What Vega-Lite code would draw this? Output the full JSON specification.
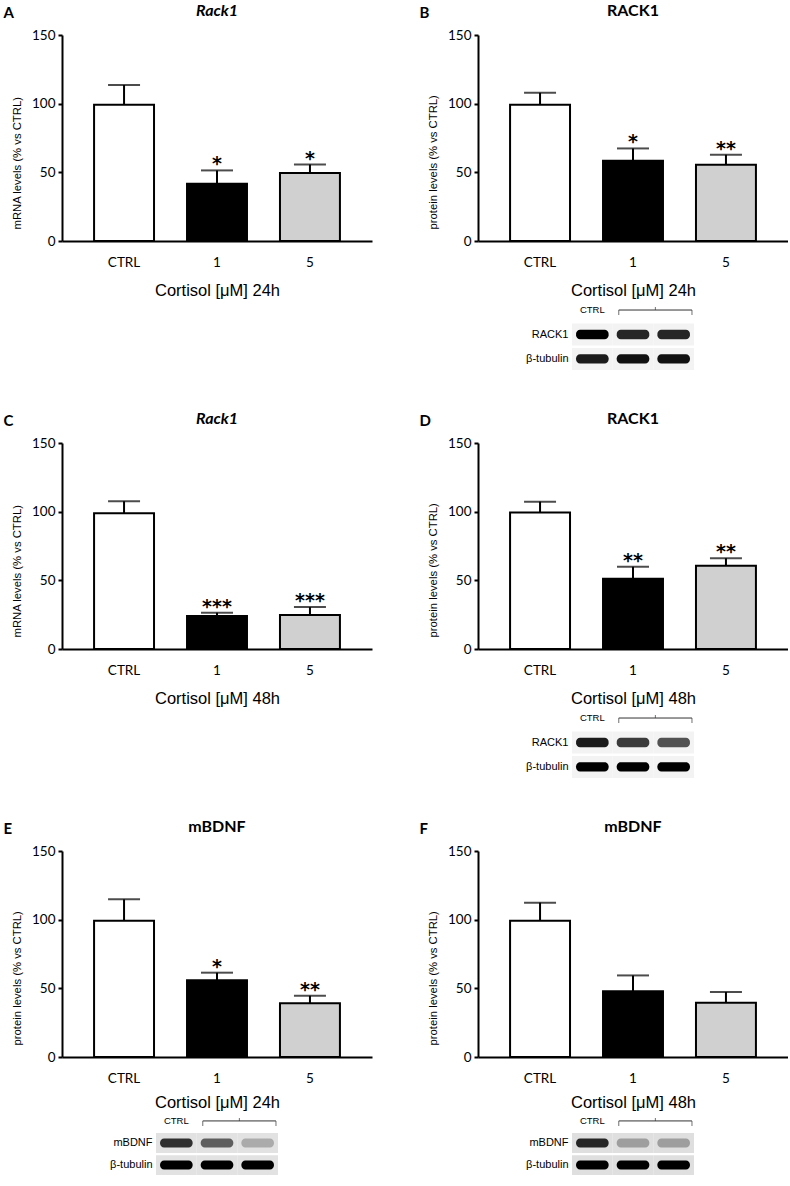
{
  "$schema": "https://vega.github.io/schema/vega-lite/v6.json",
  "padding": {"left": 3, "top": 3, "right": 0, "bottom": 0},
  "background": "white",
  "spacing": 41,
  "datasets": {
    "bars": [
      {"panel":"A","dose":"CTRL","mean":99.3,"upper":113.6,"star":""},
      {"panel":"A","dose":"1","mean":41.7,"upper":51.4,"star":"*"},
      {"panel":"A","dose":"5","mean":49.6,"upper":55.7,"star":"*"},
      {"panel":"B","dose":"CTRL","mean":99.3,"upper":107.9,"star":""},
      {"panel":"B","dose":"1","mean":58.5,"upper":67.4,"star":"*"},
      {"panel":"B","dose":"5","mean":55.6,"upper":62.8,"star":"**"},
      {"panel":"C","dose":"CTRL","mean":98.8,"upper":107.6,"star":""},
      {"panel":"C","dose":"1","mean":24.1,"upper":26.4,"star":"***"},
      {"panel":"C","dose":"5","mean":24.8,"upper":30.5,"star":"***"},
      {"panel":"D","dose":"CTRL","mean":99.4,"upper":107.3,"star":""},
      {"panel":"D","dose":"1","mean":51.2,"upper":59.9,"star":"**"},
      {"panel":"D","dose":"5","mean":60.6,"upper":66.1,"star":"**"},
      {"panel":"E","dose":"CTRL","mean":99.3,"upper":114.8,"star":""},
      {"panel":"E","dose":"1","mean":55.8,"upper":61.4,"star":"*"},
      {"panel":"E","dose":"5","mean":39.2,"upper":44.6,"star":"**"},
      {"panel":"F","dose":"CTRL","mean":99.3,"upper":112.4,"star":""},
      {"panel":"F","dose":"1","mean":47.8,"upper":59.4,"star":""},
      {"panel":"F","dose":"5","mean":39.5,"upper":47.3,"star":""}
    ],
    "blots": [
      {"panel":"B","kind":"label","row":"hdr","lane":"CTRL","text":"CTRL"},
      {"panel":"B","kind":"bracket","row":"hdr","lane":"1","lane_end":"5"},
      {"panel":"B","kind":"band","row":"RACK1","lane":"CTRL","intensity":1.0},
      {"panel":"B","kind":"band","row":"RACK1","lane":"1","intensity":0.85},
      {"panel":"B","kind":"band","row":"RACK1","lane":"5","intensity":0.85},
      {"panel":"B","kind":"band","row":"β-tubulin","lane":"CTRL","intensity":0.9},
      {"panel":"B","kind":"band","row":"β-tubulin","lane":"1","intensity":0.95},
      {"panel":"B","kind":"band","row":"β-tubulin","lane":"5","intensity":0.95},
      {"panel":"D","kind":"label","row":"hdr","lane":"CTRL","text":"CTRL"},
      {"panel":"D","kind":"bracket","row":"hdr","lane":"1","lane_end":"5"},
      {"panel":"D","kind":"band","row":"RACK1","lane":"CTRL","intensity":0.9},
      {"panel":"D","kind":"band","row":"RACK1","lane":"1","intensity":0.75},
      {"panel":"D","kind":"band","row":"RACK1","lane":"5","intensity":0.65},
      {"panel":"D","kind":"band","row":"β-tubulin","lane":"CTRL","intensity":1.0},
      {"panel":"D","kind":"band","row":"β-tubulin","lane":"1","intensity":1.0},
      {"panel":"D","kind":"band","row":"β-tubulin","lane":"5","intensity":1.0},
      {"panel":"E","kind":"label","row":"hdr","lane":"CTRL","text":"CTRL"},
      {"panel":"E","kind":"bracket","row":"hdr","lane":"1","lane_end":"5"},
      {"panel":"E","kind":"band","row":"mBDNF","lane":"CTRL","intensity":0.8},
      {"panel":"E","kind":"band","row":"mBDNF","lane":"1","intensity":0.6},
      {"panel":"E","kind":"band","row":"mBDNF","lane":"5","intensity":0.3},
      {"panel":"E","kind":"band","row":"β-tubulin","lane":"CTRL","intensity":1.0},
      {"panel":"E","kind":"band","row":"β-tubulin","lane":"1","intensity":1.0},
      {"panel":"E","kind":"band","row":"β-tubulin","lane":"5","intensity":1.0},
      {"panel":"F","kind":"label","row":"hdr","lane":"CTRL","text":"CTRL"},
      {"panel":"F","kind":"bracket","row":"hdr","lane":"1","lane_end":"5"},
      {"panel":"F","kind":"band","row":"mBDNF","lane":"CTRL","intensity":0.85},
      {"panel":"F","kind":"band","row":"mBDNF","lane":"1","intensity":0.35},
      {"panel":"F","kind":"band","row":"mBDNF","lane":"5","intensity":0.35},
      {"panel":"F","kind":"band","row":"β-tubulin","lane":"CTRL","intensity":1.0},
      {"panel":"F","kind":"band","row":"β-tubulin","lane":"1","intensity":1.0},
      {"panel":"F","kind":"band","row":"β-tubulin","lane":"5","intensity":1.0}
    ]
  },
  "vconcat": [
    {"spacing": 47, "hconcat": [
      {"title": {"text": "A", "anchor": "start", "fontSize": 15, "offset": 0, "dx": -8, "dy": 18}, "center": true, "spacing": 0, "vconcat": [
        {"width": 310, "height": 206, "title": {"text": "Rack1", "fontStyle": "italic", "offset": 9},
         "data": {"name": "bars"}, "transform": [{"filter": "datum.panel == 'A'"}],
         "encoding": {"x": {"field": "dose", "type": "nominal", "sort": ["CTRL","1","5"], "scale": {"paddingInner": 0.355, "paddingOuter": 0.345}, "title": "Cortisol [μM] 24h"}},
         "layer": [
           {"mark": {"type": "rule", "color": "black", "strokeWidth": 2}, "encoding": {"y": {"field": "mean", "type": "quantitative", "title": "mRNA levels (% vs CTRL)", "scale": {"domain": [0,150], "nice": false}, "axis": {"values": [0,50,100,150]}}, "y2": {"field": "upper"}}},
           {"mark": {"type": "tick", "color": "black", "size": 32, "thickness": 2}, "encoding": {"y": {"field": "upper", "type": "quantitative", "title": "mRNA levels (% vs CTRL)"}}},
           {"mark": {"type": "bar", "stroke": "black", "strokeWidth": 2}, "encoding": {"y": {"field": "mean", "type": "quantitative", "title": "mRNA levels (% vs CTRL)"}, "fill": {"field": "dose", "type": "nominal", "scale": {"domain": ["CTRL","1","5"], "range": ["#ffffff","#000000","#d0d0d0"]}, "legend": null}}},
           {"mark": {"type": "text", "font": "DejaVu Sans", "fontWeight": "bold", "fontSize": 19, "baseline": "alphabetic"}, "encoding": {"y": {"field": "upper", "type": "quantitative", "title": "mRNA levels (% vs CTRL)"}, "text": {"field": "star"}}}
         ]}
      ]},
      {"title": {"text": "B", "anchor": "start", "fontSize": 15, "offset": 0, "dx": -8, "dy": 18}, "center": true, "spacing": 0, "vconcat": [
        {"width": 310, "height": 206, "title": {"text": "RACK1", "offset": 9},
         "data": {"name": "bars"}, "transform": [{"filter": "datum.panel == 'B'"}],
         "encoding": {"x": {"field": "dose", "type": "nominal", "sort": ["CTRL","1","5"], "scale": {"paddingInner": 0.355, "paddingOuter": 0.345}, "title": "Cortisol [μM] 24h"}},
         "layer": [
           {"mark": {"type": "rule", "color": "black", "strokeWidth": 2}, "encoding": {"y": {"field": "mean", "type": "quantitative", "title": "protein levels (% vs CTRL)", "scale": {"domain": [0,150], "nice": false}, "axis": {"values": [0,50,100,150]}}, "y2": {"field": "upper"}}},
           {"mark": {"type": "tick", "color": "black", "size": 32, "thickness": 2}, "encoding": {"y": {"field": "upper", "type": "quantitative", "title": "protein levels (% vs CTRL)"}}},
           {"mark": {"type": "bar", "stroke": "black", "strokeWidth": 2}, "encoding": {"y": {"field": "mean", "type": "quantitative", "title": "protein levels (% vs CTRL)"}, "fill": {"field": "dose", "type": "nominal", "scale": {"domain": ["CTRL","1","5"], "range": ["#ffffff","#000000","#d0d0d0"]}, "legend": null}}},
           {"mark": {"type": "text", "font": "DejaVu Sans", "fontWeight": "bold", "fontSize": 19, "baseline": "alphabetic"}, "encoding": {"y": {"field": "upper", "type": "quantitative", "title": "protein levels (% vs CTRL)"}, "text": {"field": "star"}}}
         ]},
        {"width": 122, "height": 71,
         "data": {"name": "blots"}, "transform": [{"filter": "datum.panel == 'B'"}],
         "encoding": {
           "x": {"field": "lane", "type": "nominal", "scale": {"domain": ["CTRL","1","5"], "paddingInner": 0, "paddingOuter": 0}, "axis": null},
           "y": {"field": "row", "type": "nominal", "scale": {"domain": ["hdr","RACK1","β-tubulin"], "paddingInner": 0.1, "paddingOuter": 0}, "axis": {"title": null, "domain": false, "ticks": false, "labelExpr": "datum.value == 'hdr' ? '' : datum.value", "labelFont": "Liberation Sans", "labelFontSize": 11, "labelPadding": 4}}
         },
         "layer": [
           {"transform": [{"filter": "datum.kind == 'band'"}], "mark": {"type": "rect", "color": "#f3f3f3"}},
           {"transform": [{"filter": "datum.kind == 'band'"}], "mark": {"type": "rect", "width": {"band": 0.8}, "height": {"band": 0.42}, "cornerRadius": 4}, "encoding": {"color": {"field": "intensity", "type": "quantitative", "scale": {"domain": [0,1], "range": ["#ffffff","#000000"]}, "legend": null}}},
           {"transform": [{"filter": "datum.kind == 'label'"}], "mark": {"type": "text", "font": "Liberation Sans", "fontSize": 9.5}, "encoding": {"text": {"field": "text"}}},
           {"transform": [{"filter": "datum.kind == 'bracket'"}], "mark": {"type": "rule", "color": "#333333", "strokeWidth": 1}, "encoding": {"x": {"field": "lane", "type": "nominal", "bandPosition": 0.15}, "x2": {"field": "lane_end", "bandPosition": 0.95}}},
           {"transform": [{"filter": "datum.kind == 'bracket'"}], "mark": {"type": "tick", "orient": "vertical", "size": 5, "thickness": 1, "yOffset": 2.5, "color": "#333333"}, "encoding": {"x": {"field": "lane", "type": "nominal", "bandPosition": 0.15}}},
           {"transform": [{"filter": "datum.kind == 'bracket'"}], "mark": {"type": "tick", "orient": "vertical", "size": 5, "thickness": 1, "yOffset": 2.5, "color": "#333333"}, "encoding": {"x": {"field": "lane_end", "type": "nominal", "bandPosition": 0.95}}},
           {"transform": [{"filter": "datum.kind == 'bracket'"}], "mark": {"type": "tick", "orient": "vertical", "size": 3, "thickness": 1, "yOffset": -1.5, "color": "#333333"}, "encoding": {"x": {"field": "lane_end", "type": "nominal", "bandPosition": 0.05}}}
         ]}
      ]}
    ]},
    {"spacing": 47, "hconcat": [
      {"title": {"text": "C", "anchor": "start", "fontSize": 15, "offset": 0, "dx": -8, "dy": 18}, "center": true, "spacing": 0, "vconcat": [
        {"width": 310, "height": 206, "title": {"text": "Rack1", "fontStyle": "italic", "offset": 9},
         "data": {"name": "bars"}, "transform": [{"filter": "datum.panel == 'C'"}],
         "encoding": {"x": {"field": "dose", "type": "nominal", "sort": ["CTRL","1","5"], "scale": {"paddingInner": 0.355, "paddingOuter": 0.345}, "title": "Cortisol [μM] 48h"}},
         "layer": [
           {"mark": {"type": "rule", "color": "black", "strokeWidth": 2}, "encoding": {"y": {"field": "mean", "type": "quantitative", "title": "mRNA levels (% vs CTRL)", "scale": {"domain": [0,150], "nice": false}, "axis": {"values": [0,50,100,150]}}, "y2": {"field": "upper"}}},
           {"mark": {"type": "tick", "color": "black", "size": 32, "thickness": 2}, "encoding": {"y": {"field": "upper", "type": "quantitative", "title": "mRNA levels (% vs CTRL)"}}},
           {"mark": {"type": "bar", "stroke": "black", "strokeWidth": 2}, "encoding": {"y": {"field": "mean", "type": "quantitative", "title": "mRNA levels (% vs CTRL)"}, "fill": {"field": "dose", "type": "nominal", "scale": {"domain": ["CTRL","1","5"], "range": ["#ffffff","#000000","#d0d0d0"]}, "legend": null}}},
           {"mark": {"type": "text", "font": "DejaVu Sans", "fontWeight": "bold", "fontSize": 19, "baseline": "alphabetic"}, "encoding": {"y": {"field": "upper", "type": "quantitative", "title": "mRNA levels (% vs CTRL)"}, "text": {"field": "star"}}}
         ]}
      ]},
      {"title": {"text": "D", "anchor": "start", "fontSize": 15, "offset": 0, "dx": -8, "dy": 18}, "center": true, "spacing": 0, "vconcat": [
        {"width": 310, "height": 206, "title": {"text": "RACK1", "offset": 9},
         "data": {"name": "bars"}, "transform": [{"filter": "datum.panel == 'D'"}],
         "encoding": {"x": {"field": "dose", "type": "nominal", "sort": ["CTRL","1","5"], "scale": {"paddingInner": 0.355, "paddingOuter": 0.345}, "title": "Cortisol [μM] 48h"}},
         "layer": [
           {"mark": {"type": "rule", "color": "black", "strokeWidth": 2}, "encoding": {"y": {"field": "mean", "type": "quantitative", "title": "protein levels (% vs CTRL)", "scale": {"domain": [0,150], "nice": false}, "axis": {"values": [0,50,100,150]}}, "y2": {"field": "upper"}}},
           {"mark": {"type": "tick", "color": "black", "size": 32, "thickness": 2}, "encoding": {"y": {"field": "upper", "type": "quantitative", "title": "protein levels (% vs CTRL)"}}},
           {"mark": {"type": "bar", "stroke": "black", "strokeWidth": 2}, "encoding": {"y": {"field": "mean", "type": "quantitative", "title": "protein levels (% vs CTRL)"}, "fill": {"field": "dose", "type": "nominal", "scale": {"domain": ["CTRL","1","5"], "range": ["#ffffff","#000000","#d0d0d0"]}, "legend": null}}},
           {"mark": {"type": "text", "font": "DejaVu Sans", "fontWeight": "bold", "fontSize": 19, "baseline": "alphabetic"}, "encoding": {"y": {"field": "upper", "type": "quantitative", "title": "protein levels (% vs CTRL)"}, "text": {"field": "star"}}}
         ]},
        {"width": 122, "height": 71,
         "data": {"name": "blots"}, "transform": [{"filter": "datum.panel == 'D'"}],
         "encoding": {
           "x": {"field": "lane", "type": "nominal", "scale": {"domain": ["CTRL","1","5"], "paddingInner": 0, "paddingOuter": 0}, "axis": null},
           "y": {"field": "row", "type": "nominal", "scale": {"domain": ["hdr","RACK1","β-tubulin"], "paddingInner": 0.1, "paddingOuter": 0}, "axis": {"title": null, "domain": false, "ticks": false, "labelExpr": "datum.value == 'hdr' ? '' : datum.value", "labelFont": "Liberation Sans", "labelFontSize": 11, "labelPadding": 4}}
         },
         "layer": [
           {"transform": [{"filter": "datum.kind == 'band'"}], "mark": {"type": "rect", "color": "#f3f3f3"}},
           {"transform": [{"filter": "datum.kind == 'band'"}], "mark": {"type": "rect", "width": {"band": 0.8}, "height": {"band": 0.42}, "cornerRadius": 4}, "encoding": {"color": {"field": "intensity", "type": "quantitative", "scale": {"domain": [0,1], "range": ["#ffffff","#000000"]}, "legend": null}}},
           {"transform": [{"filter": "datum.kind == 'label'"}], "mark": {"type": "text", "font": "Liberation Sans", "fontSize": 9.5}, "encoding": {"text": {"field": "text"}}},
           {"transform": [{"filter": "datum.kind == 'bracket'"}], "mark": {"type": "rule", "color": "#333333", "strokeWidth": 1}, "encoding": {"x": {"field": "lane", "type": "nominal", "bandPosition": 0.15}, "x2": {"field": "lane_end", "bandPosition": 0.95}}},
           {"transform": [{"filter": "datum.kind == 'bracket'"}], "mark": {"type": "tick", "orient": "vertical", "size": 5, "thickness": 1, "yOffset": 2.5, "color": "#333333"}, "encoding": {"x": {"field": "lane", "type": "nominal", "bandPosition": 0.15}}},
           {"transform": [{"filter": "datum.kind == 'bracket'"}], "mark": {"type": "tick", "orient": "vertical", "size": 5, "thickness": 1, "yOffset": 2.5, "color": "#333333"}, "encoding": {"x": {"field": "lane_end", "type": "nominal", "bandPosition": 0.95}}},
           {"transform": [{"filter": "datum.kind == 'bracket'"}], "mark": {"type": "tick", "orient": "vertical", "size": 3, "thickness": 1, "yOffset": -1.5, "color": "#333333"}, "encoding": {"x": {"field": "lane_end", "type": "nominal", "bandPosition": 0.05}}}
         ]}
      ]}
    ]},
    {"spacing": 47, "hconcat": [
      {"title": {"text": "E", "anchor": "start", "fontSize": 15, "offset": 0, "dx": -8, "dy": 18}, "center": true, "spacing": 0, "vconcat": [
        {"width": 310, "height": 206, "title": {"text": "mBDNF", "offset": 9},
         "data": {"name": "bars"}, "transform": [{"filter": "datum.panel == 'E'"}],
         "encoding": {"x": {"field": "dose", "type": "nominal", "sort": ["CTRL","1","5"], "scale": {"paddingInner": 0.355, "paddingOuter": 0.345}, "title": "Cortisol [μM] 24h", "axis": {"titlePadding": 10}}},
         "layer": [
           {"mark": {"type": "rule", "color": "black", "strokeWidth": 2}, "encoding": {"y": {"field": "mean", "type": "quantitative", "title": "protein levels (% vs CTRL)", "scale": {"domain": [0,150], "nice": false}, "axis": {"values": [0,50,100,150]}}, "y2": {"field": "upper"}}},
           {"mark": {"type": "tick", "color": "black", "size": 32, "thickness": 2}, "encoding": {"y": {"field": "upper", "type": "quantitative", "title": "protein levels (% vs CTRL)"}}},
           {"mark": {"type": "bar", "stroke": "black", "strokeWidth": 2}, "encoding": {"y": {"field": "mean", "type": "quantitative", "title": "protein levels (% vs CTRL)"}, "fill": {"field": "dose", "type": "nominal", "scale": {"domain": ["CTRL","1","5"], "range": ["#ffffff","#000000","#d0d0d0"]}, "legend": null}}},
           {"mark": {"type": "text", "font": "DejaVu Sans", "fontWeight": "bold", "fontSize": 19, "baseline": "alphabetic"}, "encoding": {"y": {"field": "upper", "type": "quantitative", "title": "protein levels (% vs CTRL)"}, "text": {"field": "star"}}}
         ]},
        {"width": 122, "height": 64,
         "data": {"name": "blots"}, "transform": [{"filter": "datum.panel == 'E'"}],
         "encoding": {
           "x": {"field": "lane", "type": "nominal", "scale": {"domain": ["CTRL","1","5"], "paddingInner": 0, "paddingOuter": 0}, "axis": null},
           "y": {"field": "row", "type": "nominal", "scale": {"domain": ["hdr","mBDNF","β-tubulin"], "paddingInner": 0.1, "paddingOuter": 0}, "axis": {"title": null, "domain": false, "ticks": false, "labelExpr": "datum.value == 'hdr' ? '' : datum.value", "labelFont": "Liberation Sans", "labelFontSize": 11, "labelPadding": 4}}
         },
         "layer": [
           {"transform": [{"filter": "datum.kind == 'band'"}], "mark": {"type": "rect", "color": "#e2e2e2"}},
           {"transform": [{"filter": "datum.kind == 'band'"}], "mark": {"type": "rect", "width": {"band": 0.8}, "height": {"band": 0.45}, "cornerRadius": 4}, "encoding": {"color": {"field": "intensity", "type": "quantitative", "scale": {"domain": [0,1], "range": ["#ffffff","#000000"]}, "legend": null}}},
           {"transform": [{"filter": "datum.kind == 'label'"}], "mark": {"type": "text", "font": "Liberation Sans", "fontSize": 9.5}, "encoding": {"text": {"field": "text"}}},
           {"transform": [{"filter": "datum.kind == 'bracket'"}], "mark": {"type": "rule", "color": "#333333", "strokeWidth": 1}, "encoding": {"x": {"field": "lane", "type": "nominal", "bandPosition": 0.15}, "x2": {"field": "lane_end", "bandPosition": 0.95}}},
           {"transform": [{"filter": "datum.kind == 'bracket'"}], "mark": {"type": "tick", "orient": "vertical", "size": 5, "thickness": 1, "yOffset": 2.5, "color": "#333333"}, "encoding": {"x": {"field": "lane", "type": "nominal", "bandPosition": 0.15}}},
           {"transform": [{"filter": "datum.kind == 'bracket'"}], "mark": {"type": "tick", "orient": "vertical", "size": 5, "thickness": 1, "yOffset": 2.5, "color": "#333333"}, "encoding": {"x": {"field": "lane_end", "type": "nominal", "bandPosition": 0.95}}},
           {"transform": [{"filter": "datum.kind == 'bracket'"}], "mark": {"type": "tick", "orient": "vertical", "size": 3, "thickness": 1, "yOffset": -1.5, "color": "#333333"}, "encoding": {"x": {"field": "lane_end", "type": "nominal", "bandPosition": 0.05}}}
         ]}
      ]},
      {"title": {"text": "F", "anchor": "start", "fontSize": 15, "offset": 0, "dx": -8, "dy": 18}, "center": true, "spacing": 0, "vconcat": [
        {"width": 310, "height": 206, "title": {"text": "mBDNF", "offset": 9},
         "data": {"name": "bars"}, "transform": [{"filter": "datum.panel == 'F'"}],
         "encoding": {"x": {"field": "dose", "type": "nominal", "sort": ["CTRL","1","5"], "scale": {"paddingInner": 0.355, "paddingOuter": 0.345}, "title": "Cortisol [μM] 48h", "axis": {"titlePadding": 10}}},
         "layer": [
           {"mark": {"type": "rule", "color": "black", "strokeWidth": 2}, "encoding": {"y": {"field": "mean", "type": "quantitative", "title": "protein levels (% vs CTRL)", "scale": {"domain": [0,150], "nice": false}, "axis": {"values": [0,50,100,150]}}, "y2": {"field": "upper"}}},
           {"mark": {"type": "tick", "color": "black", "size": 32, "thickness": 2}, "encoding": {"y": {"field": "upper", "type": "quantitative", "title": "protein levels (% vs CTRL)"}}},
           {"mark": {"type": "bar", "stroke": "black", "strokeWidth": 2}, "encoding": {"y": {"field": "mean", "type": "quantitative", "title": "protein levels (% vs CTRL)"}, "fill": {"field": "dose", "type": "nominal", "scale": {"domain": ["CTRL","1","5"], "range": ["#ffffff","#000000","#d0d0d0"]}, "legend": null}}},
           {"mark": {"type": "text", "font": "DejaVu Sans", "fontWeight": "bold", "fontSize": 19, "baseline": "alphabetic"}, "encoding": {"y": {"field": "upper", "type": "quantitative", "title": "protein levels (% vs CTRL)"}, "text": {"field": "star"}}}
         ]},
        {"width": 122, "height": 64,
         "data": {"name": "blots"}, "transform": [{"filter": "datum.panel == 'F'"}],
         "encoding": {
           "x": {"field": "lane", "type": "nominal", "scale": {"domain": ["CTRL","1","5"], "paddingInner": 0, "paddingOuter": 0}, "axis": null},
           "y": {"field": "row", "type": "nominal", "scale": {"domain": ["hdr","mBDNF","β-tubulin"], "paddingInner": 0.1, "paddingOuter": 0}, "axis": {"title": null, "domain": false, "ticks": false, "labelExpr": "datum.value == 'hdr' ? '' : datum.value", "labelFont": "Liberation Sans", "labelFontSize": 11, "labelPadding": 4}}
         },
         "layer": [
           {"transform": [{"filter": "datum.kind == 'band'"}], "mark": {"type": "rect", "color": "#dfdfdf"}},
           {"transform": [{"filter": "datum.kind == 'band'"}], "mark": {"type": "rect", "width": {"band": 0.8}, "height": {"band": 0.45}, "cornerRadius": 4}, "encoding": {"color": {"field": "intensity", "type": "quantitative", "scale": {"domain": [0,1], "range": ["#ffffff","#000000"]}, "legend": null}}},
           {"transform": [{"filter": "datum.kind == 'label'"}], "mark": {"type": "text", "font": "Liberation Sans", "fontSize": 9.5}, "encoding": {"text": {"field": "text"}}},
           {"transform": [{"filter": "datum.kind == 'bracket'"}], "mark": {"type": "rule", "color": "#333333", "strokeWidth": 1}, "encoding": {"x": {"field": "lane", "type": "nominal", "bandPosition": 0.15}, "x2": {"field": "lane_end", "bandPosition": 0.95}}},
           {"transform": [{"filter": "datum.kind == 'bracket'"}], "mark": {"type": "tick", "orient": "vertical", "size": 5, "thickness": 1, "yOffset": 2.5, "color": "#333333"}, "encoding": {"x": {"field": "lane", "type": "nominal", "bandPosition": 0.15}}},
           {"transform": [{"filter": "datum.kind == 'bracket'"}], "mark": {"type": "tick", "orient": "vertical", "size": 5, "thickness": 1, "yOffset": 2.5, "color": "#333333"}, "encoding": {"x": {"field": "lane_end", "type": "nominal", "bandPosition": 0.95}}},
           {"transform": [{"filter": "datum.kind == 'bracket'"}], "mark": {"type": "tick", "orient": "vertical", "size": 3, "thickness": 1, "yOffset": -1.5, "color": "#333333"}, "encoding": {"x": {"field": "lane_end", "type": "nominal", "bandPosition": 0.05}}}
         ]}
      ]}
    ]}
  ],
  "config": {
    "view": {"stroke": null},
    "font": "Lato",
    "title": {"font": "Lato", "fontSize": 16, "fontWeight": "bold", "color": "black"},
    "axis": {"domainColor": "black", "domainWidth": 2, "tickColor": "black", "tickWidth": 2, "labelColor": "black", "titleColor": "black", "grid": false, "labelFont": "Lato", "labelFontSize": 13.5},
    "axisX": {"ticks": false, "labelAngle": 0, "labelPadding": 14, "titleFont": "Liberation Sans", "titleFontSize": 16.5, "titleFontWeight": "normal", "titlePadding": 14},
    "axisY": {"tickSize": 4, "labelPadding": 3, "titleFont": "Liberation Sans", "titleFontSize": 11.3, "titleFontWeight": "normal", "titlePadding": 9, "titleAnchor": "start", "titleY": 194}
  }
}
